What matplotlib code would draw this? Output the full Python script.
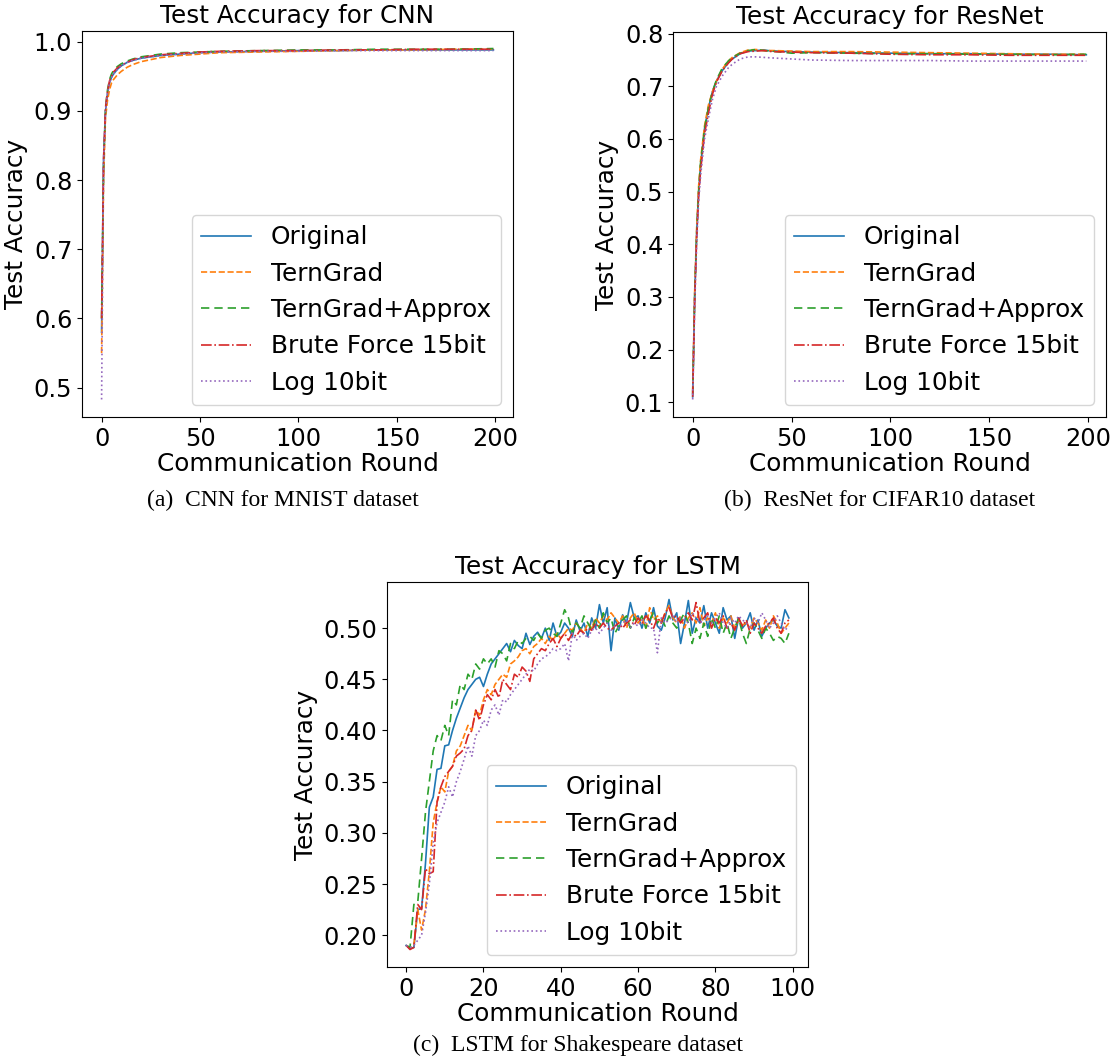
import matplotlib
matplotlib.use("Agg")
import matplotlib.pyplot as plt
import numpy as np

labels = ["Original", "TernGrad", "TernGrad+Approx", "Brute Force 15bit", "Log 10bit"]

# ---------------- CNN (MNIST) ----------------
cnn_x = [0, 1, 2, 3, 4, 5, 6, 8, 10, 13, 16, 20, 25, 30, 40, 50, 60, 80, 100, 120, 140, 160, 180, 199]
cnn_original = [0.58, 0.83, 0.90, 0.925, 0.94, 0.948, 0.953, 0.960, 0.965, 0.970, 0.973, 0.976, 0.978, 0.980, 0.982, 0.984, 0.985, 0.986, 0.987, 0.987, 0.988, 0.988, 0.988, 0.988]
cnn_terngrad = [0.55, 0.80, 0.89, 0.915, 0.930, 0.940, 0.945, 0.952, 0.957, 0.963, 0.967, 0.971, 0.974, 0.977, 0.980, 0.982, 0.984, 0.985, 0.986, 0.987, 0.988, 0.988, 0.989, 0.989]
cnn_approx = [0.60, 0.82, 0.905, 0.930, 0.945, 0.953, 0.958, 0.964, 0.968, 0.972, 0.975, 0.978, 0.980, 0.982, 0.984, 0.985, 0.986, 0.987, 0.988, 0.988, 0.989, 0.989, 0.989, 0.990]
cnn_brute = [0.60, 0.83, 0.905, 0.928, 0.943, 0.950, 0.956, 0.962, 0.966, 0.970, 0.974, 0.977, 0.979, 0.981, 0.983, 0.985, 0.986, 0.987, 0.987, 0.988, 0.988, 0.989, 0.989, 0.989]
cnn_log = [0.483, 0.82, 0.90, 0.925, 0.940, 0.948, 0.953, 0.960, 0.965, 0.970, 0.973, 0.976, 0.978, 0.980, 0.982, 0.984, 0.985, 0.986, 0.986, 0.987, 0.987, 0.987, 0.987, 0.987]

# ---------------- ResNet (CIFAR10) ----------------
res_x = [0, 1, 2, 3, 4, 6, 8, 10, 12, 15, 18, 20, 24, 28, 32, 36, 40, 50, 60, 80, 100, 120, 140, 160, 180, 199]
res_original = [0.11, 0.30, 0.42, 0.50, 0.55, 0.62, 0.66, 0.69, 0.71, 0.73, 0.745, 0.752, 0.762, 0.767, 0.768, 0.769, 0.767, 0.766, 0.765, 0.764, 0.763, 0.762, 0.762, 0.761, 0.761, 0.760]
res_terngrad = [0.12, 0.31, 0.43, 0.51, 0.56, 0.625, 0.665, 0.69, 0.71, 0.733, 0.748, 0.755, 0.764, 0.769, 0.770, 0.768, 0.768, 0.767, 0.766, 0.766, 0.765, 0.764, 0.763, 0.762, 0.761, 0.761]
res_approx = [0.115, 0.30, 0.42, 0.50, 0.555, 0.62, 0.66, 0.69, 0.712, 0.735, 0.748, 0.755, 0.763, 0.768, 0.770, 0.768, 0.767, 0.763, 0.764, 0.763, 0.762, 0.762, 0.761, 0.761, 0.760, 0.761]
res_brute = [0.11, 0.29, 0.41, 0.49, 0.54, 0.61, 0.65, 0.685, 0.708, 0.73, 0.744, 0.752, 0.762, 0.766, 0.767, 0.768, 0.766, 0.765, 0.764, 0.763, 0.761, 0.760, 0.760, 0.759, 0.759, 0.759]
res_log = [0.105, 0.28, 0.40, 0.48, 0.53, 0.60, 0.64, 0.675, 0.70, 0.72, 0.735, 0.742, 0.752, 0.756, 0.756, 0.755, 0.754, 0.752, 0.750, 0.749, 0.749, 0.749, 0.748, 0.748, 0.748, 0.748]

# ---------------- LSTM (Shakespeare) ----------------
lstm_x = list(range(100))
lstm_original = [
    0.190, 0.187, 0.188, 0.225, 0.226, 0.270, 0.325, 0.335, 0.362, 0.363,
    0.385, 0.386, 0.400, 0.412, 0.422, 0.432, 0.440, 0.445, 0.450, 0.452,
    0.443, 0.455, 0.465, 0.470, 0.475, 0.480, 0.485, 0.477, 0.488, 0.483,
    0.480, 0.495, 0.484, 0.492, 0.496, 0.490, 0.500, 0.488, 0.505, 0.492,
    0.496, 0.505, 0.500, 0.492, 0.508, 0.497, 0.505, 0.492, 0.510, 0.500,
    0.523, 0.505, 0.520, 0.478, 0.510, 0.498, 0.513, 0.505, 0.525, 0.510,
    0.512, 0.500, 0.515, 0.505, 0.520, 0.502, 0.498, 0.510, 0.528, 0.508,
    0.515, 0.485, 0.505, 0.527, 0.495, 0.510, 0.505, 0.522, 0.500, 0.515,
    0.505, 0.495, 0.520, 0.508, 0.512, 0.490, 0.510, 0.500, 0.505, 0.515,
    0.498, 0.508, 0.492, 0.500, 0.505, 0.508, 0.502, 0.500, 0.518, 0.510]
lstm_terngrad = [
    0.190, 0.188, 0.190, 0.225, 0.205, 0.225, 0.262, 0.310, 0.330, 0.345,
    0.340, 0.360, 0.365, 0.380, 0.385, 0.395, 0.405, 0.400, 0.420, 0.415,
    0.430, 0.440, 0.435, 0.445, 0.450, 0.455, 0.452, 0.465, 0.468, 0.472,
    0.478, 0.480, 0.475, 0.482, 0.485, 0.490, 0.485, 0.492, 0.488, 0.495,
    0.490, 0.495, 0.500, 0.498, 0.505, 0.500, 0.495, 0.505, 0.500, 0.510,
    0.505, 0.512, 0.508, 0.515, 0.510, 0.505, 0.512, 0.500, 0.510, 0.515,
    0.505, 0.510, 0.500, 0.520, 0.508, 0.512, 0.505, 0.515, 0.522, 0.510,
    0.505, 0.512, 0.500, 0.510, 0.515, 0.505, 0.520, 0.502, 0.510, 0.505,
    0.515, 0.500, 0.510, 0.505, 0.512, 0.500, 0.508, 0.503, 0.505, 0.500,
    0.510, 0.505, 0.498, 0.508, 0.500, 0.512, 0.505, 0.495, 0.500, 0.505]
lstm_approx = [
    0.190, 0.188, 0.230, 0.232, 0.275, 0.320, 0.350, 0.380, 0.395, 0.390,
    0.405, 0.395, 0.430, 0.425, 0.445, 0.440, 0.455, 0.450, 0.465, 0.460,
    0.470, 0.465, 0.470, 0.462, 0.478, 0.475, 0.468, 0.485, 0.480, 0.488,
    0.485, 0.490, 0.492, 0.488, 0.495, 0.490, 0.498, 0.500, 0.495, 0.492,
    0.505, 0.518, 0.510, 0.495, 0.505, 0.500, 0.512, 0.505, 0.498, 0.508,
    0.500, 0.515, 0.505, 0.510, 0.495, 0.502, 0.508, 0.512, 0.500, 0.510,
    0.505, 0.512, 0.500, 0.508, 0.515, 0.505, 0.510, 0.502, 0.512, 0.505,
    0.500, 0.508, 0.515, 0.505, 0.485, 0.500, 0.490, 0.505, 0.492, 0.510,
    0.500, 0.512, 0.495, 0.505, 0.490, 0.500, 0.510, 0.495, 0.485, 0.500,
    0.505, 0.498, 0.490, 0.500, 0.495, 0.488, 0.492, 0.490, 0.485, 0.495]
lstm_brute = [
    0.190, 0.186, 0.188, 0.230, 0.225, 0.265, 0.260, 0.262, 0.330, 0.345,
    0.355, 0.360, 0.365, 0.375, 0.378, 0.382, 0.395, 0.400, 0.420, 0.410,
    0.425, 0.435, 0.430, 0.440, 0.432, 0.450, 0.445, 0.440, 0.455, 0.452,
    0.462, 0.458, 0.448, 0.470, 0.475, 0.480, 0.478, 0.485, 0.490, 0.482,
    0.490, 0.495, 0.488, 0.495, 0.492, 0.498, 0.495, 0.500, 0.498, 0.505,
    0.500, 0.505, 0.500, 0.498, 0.502, 0.505, 0.500, 0.505, 0.508, 0.503,
    0.510, 0.505, 0.512, 0.508, 0.500, 0.510, 0.505, 0.515, 0.520, 0.510,
    0.512, 0.505, 0.510, 0.515, 0.508, 0.525, 0.505, 0.510, 0.515, 0.500,
    0.510, 0.505, 0.512, 0.500, 0.505, 0.498, 0.510, 0.502, 0.508, 0.495,
    0.505, 0.500, 0.495, 0.502, 0.505, 0.510, 0.500, 0.495, 0.505, 0.508]
lstm_log = [
    0.190, 0.188, 0.190, 0.195, 0.200, 0.222, 0.250, 0.290, 0.310, 0.320,
    0.330, 0.345, 0.335, 0.350, 0.360, 0.372, 0.385, 0.375, 0.395, 0.400,
    0.410, 0.405, 0.420, 0.425, 0.415, 0.430, 0.428, 0.435, 0.440, 0.445,
    0.450, 0.455, 0.460, 0.458, 0.465, 0.470, 0.472, 0.475, 0.480, 0.478,
    0.480, 0.485, 0.468, 0.495, 0.488, 0.492, 0.495, 0.490, 0.498, 0.500,
    0.495, 0.500, 0.505, 0.498, 0.502, 0.500, 0.505, 0.508, 0.500, 0.505,
    0.502, 0.508, 0.505, 0.500, 0.500, 0.476, 0.510, 0.505, 0.508, 0.512,
    0.505, 0.510, 0.508, 0.505, 0.515, 0.510, 0.505, 0.508, 0.512, 0.505,
    0.510, 0.515, 0.505, 0.500, 0.510, 0.505, 0.512, 0.508, 0.505, 0.500,
    0.510, 0.505, 0.515, 0.508, 0.500, 0.505, 0.512, 0.505, 0.498, 0.502]

colors = ["#1f77b4", "#ff7f0e", "#2ca02c", "#d62728", "#9467bd"]
styles = ["-", "--", (0, (5, 3)), "-.", ":"]

FS = 17.8
plt.rcParams["font.family"] = ["DejaVu Sans"]
plt.rcParams["font.size"] = FS

W, H = 1117, 1059
fig = plt.figure(figsize=(W / 100, H / 100), dpi=100)


def box(l, t, r, b):
    return [l / W, 1 - b / H, (r - l) / W, (b - t) / H]


def panel(rect, x, series, title, xticks, yticks, ytickfmt):
    ax = fig.add_axes(rect)
    for ys, lab, c, ls in zip(series, labels, colors, styles):
        ax.plot(x, ys, color=c, linestyle=ls, linewidth=1.2, label=lab)
    ax.set_title(title, fontsize=FS)
    ax.set_xlabel("Communication Round", fontsize=FS, labelpad=1)
    ax.set_ylabel("Test Accuracy", fontsize=FS)
    ax.set_xticks(xticks)
    ax.set_yticks(yticks)
    ax.set_yticklabels([ytickfmt.format(v) for v in yticks])
    ax.tick_params(labelsize=17.3)
    ax.legend(loc="lower right", fontsize=FS)
    return ax


panel(box(82, 31, 513, 417), cnn_x,
      [cnn_original, cnn_terngrad, cnn_approx, cnn_brute, cnn_log],
      "Test Accuracy for CNN", [0, 50, 100, 150, 200],
      [0.5, 0.6, 0.7, 0.8, 0.9, 1.0], "{:.1f}")
panel(box(673, 32, 1106, 417), res_x,
      [res_original, res_terngrad, res_approx, res_brute, res_log],
      "Test Accuracy for ResNet", [0, 50, 100, 150, 200],
      [0.1, 0.2, 0.3, 0.4, 0.5, 0.6, 0.7, 0.8], "{:.1f}")
panel(box(387, 582, 808, 967), lstm_x,
      [lstm_original, lstm_terngrad, lstm_approx, lstm_brute, lstm_log],
      "Test Accuracy for LSTM", [0, 20, 40, 60, 80, 100],
      [0.20, 0.25, 0.30, 0.35, 0.40, 0.45, 0.50], "{:.2f}")

cap = dict(fontsize=17, family=["Liberation Serif", "DejaVu Serif"], ha="center", va="center")
fig.text(283 / W, 1 - 500 / H, "(a)  CNN for MNIST dataset", **cap)
fig.text(880 / W, 1 - 500 / H, "(b)  ResNet for CIFAR10 dataset", **cap)
fig.text(578 / W, 1 - 1045 / H, "(c)  LSTM for Shakespeare dataset", **cap)

fig.savefig("out.png", dpi=100)
